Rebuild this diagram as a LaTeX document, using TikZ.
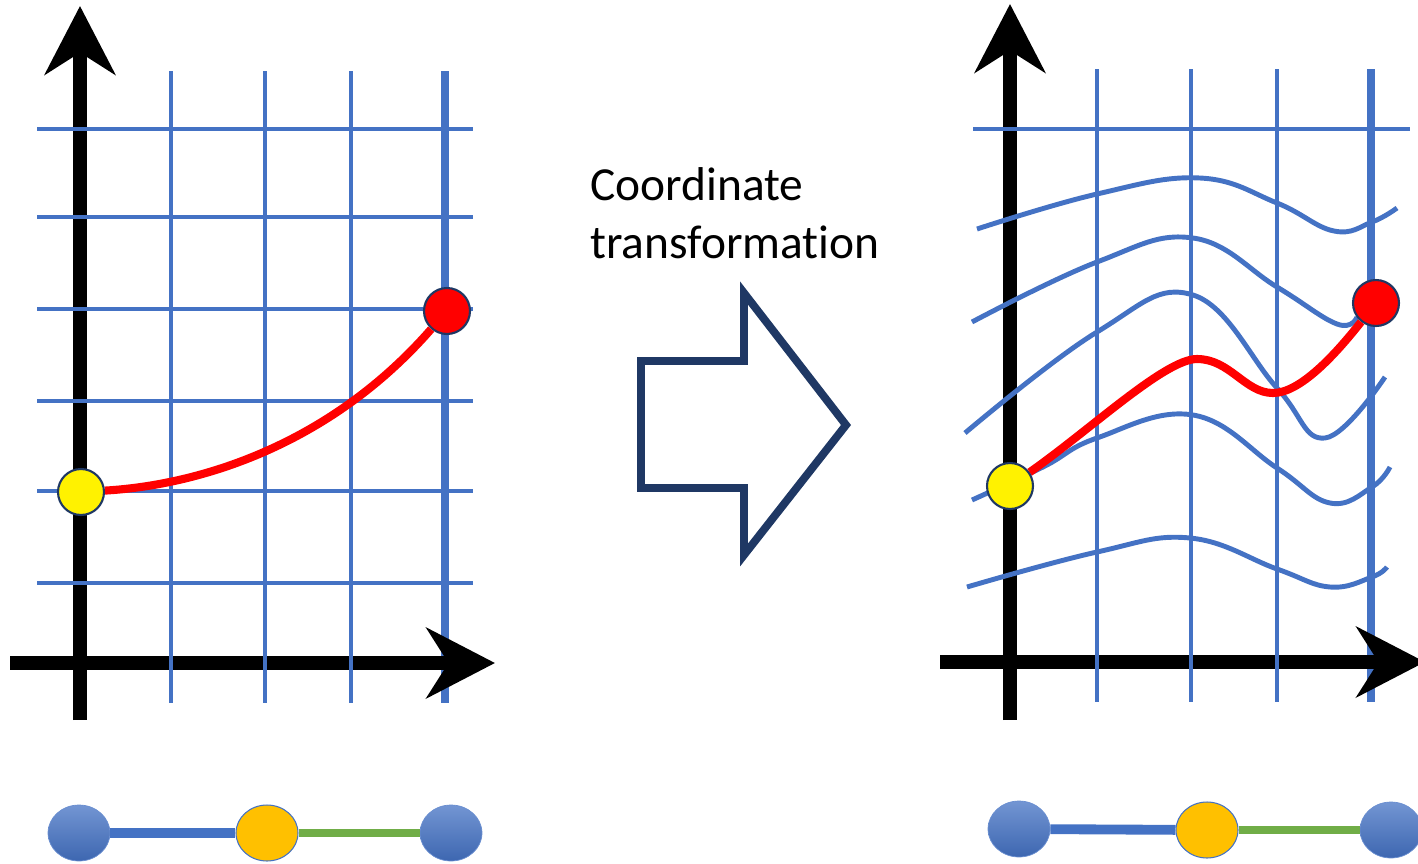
\documentclass[tikz,border=0pt]{standalone}
\usepackage{fontspec}
\setmainfont{Carlito}[Ligatures=NoCommon]
\usepackage{tikz}
\usetikzlibrary{arrows.meta,shapes.geometric}
\definecolor{gridblue}{HTML}{4472C4}
\definecolor{navy}{HTML}{1F3864}
\definecolor{amber}{HTML}{FFC000}
\definecolor{leaf}{HTML}{70AD47}

\begin{document}
\begin{tikzpicture}[x=0.02cm, y=-0.02cm, axis/.style={line width=8pt, -{Stealth[length=39pt, width=40pt, inset=12.5pt]}}, gridline/.style={gridblue, line width=2.8pt}, gridthick/.style={gridblue, line width=4.8pt}, warp/.style={gridblue, line width=2.8pt, smooth, tension=0.7}, endpt/.style={circle, draw=navy, line width=1.2pt, minimum size=0.92cm, inner sep=0pt}, ball/.style={ellipse, minimum width=1.24cm, minimum height=1.12cm, inner sep=0pt}, bnode/.style={ball, top color=gridblue!75!white, bottom color=gridblue!90!black, draw=gridblue!80!white, line width=0.4pt}, onode/.style={ball, fill=amber, draw=gridblue, line width=0.6pt}, linkline/.style={line width=5.6pt}, redline/.style={red, line width=4.6pt}, hollow/.style={draw=navy, line width=4.5pt, miter limit=10}]
\useasboundingbox (0,0) rectangle (1418,863);
\draw[gridthick] (445,71) -- (445,703);
\draw[axis] (80,720) -- (80,6);
\draw[axis] (10,663) -- (495,663);
\foreach \y in {129,217,309,401,491,583} \draw[gridline] (37,\y) -- (473,\y);
\foreach \x in {171,265,351} \draw[gridline] (\x,71) -- (\x,703);
\node[endpt, fill=yellow] (yl) at (81,492) {};
\node[endpt, fill=red] (rl) at (447,311) {};
\draw[redline] (yl) .. controls (200,485) and (330,445) .. (rl);

\node[anchor=base west, align=left, inner sep=0pt, font=\fontsize{27}{32.5}\selectfont] (lbl) at (590,258) {Coordinate\\transformation};
\draw[hollow] (641,361) -- (744,361) -- (744,293) -- (846,425) -- (744,555) -- (744,488) -- (641,488) -- cycle;

\draw[gridthick] (1371,69) -- (1371,702);
\draw[axis] (1010,720) -- (1010,4);
\draw[axis] (940,662) -- (1425,662);
\draw[gridline] (973,129) -- (1410,129);
\foreach \x in {1097,1191,1277} \draw[gridline] (\x,69) -- (\x,702);
\draw[warp] plot coordinates {(977,229) (1097,194) (1200,178) (1277,203) (1334,231) (1372,222) (1397,208)};
\draw[warp] plot coordinates {(972,322) (1097,262) (1193,238) (1277,287) (1337,324) (1357,317)};
\draw[warp] plot coordinates {(965,433) (1097,332) (1193,295) (1277,388) (1325,438) (1385,377)};
\draw[warp] plot coordinates {(972,500) (1043,467) (1097,438) (1193,415) (1277,468) (1330,503) (1372,487) (1390,467)};
\draw[warp] plot coordinates {(967,587) (1097,552) (1190,538) (1277,569) (1330,587) (1372,577) (1387,567)};
\node[endpt, fill=yellow] (yr) at (1010,486) {};
\node[endpt, fill=red] (rr) at (1376,303) {};
\coordinate (pk) at (1197,359);
\coordinate (tr) at (1273,393);
\draw[redline] (yr) .. controls (1090,430) and (1165,359) .. (pk) .. controls (1230,359) and (1245,393) .. (tr) .. controls (1300,393) and (1335,355) .. (rr);

\node[bnode] (b1) at (79,833) {};
\node[onode] (o1) at (267,833) {};
\node[bnode] (b2) at (451,833) {};
\draw[linkline, gridblue] (b1) -- (o1);
\draw[linkline, leaf, line width=4.5pt] (o1) -- (b2);
\node[bnode] (b3) at (1019,829) {};
\node[onode] (o2) at (1207,830) {};
\node[bnode] (b4) at (1391,830) {};
\draw[linkline, gridblue] (b3) -- (o2);
\draw[linkline, leaf, line width=4.5pt] (o2) -- (b4);
\end{tikzpicture}
\end{document}
